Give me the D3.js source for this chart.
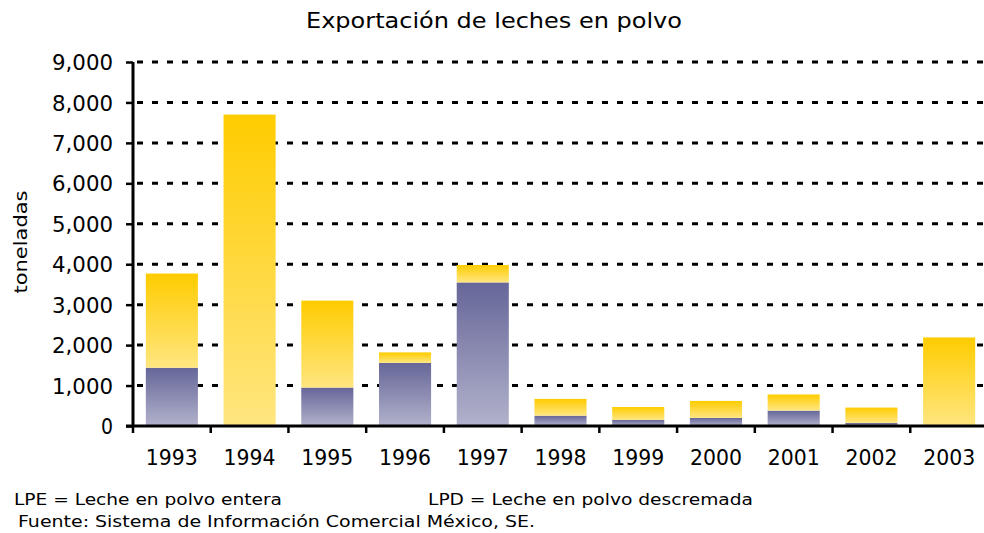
<!DOCTYPE html>
<html>
<head>
<meta charset="utf-8">
<script src="https://cdn.jsdelivr.net/npm/d3@7"></script>
<style>
  body { margin: 0; background: #fff; }
  text { font-family: Verdana, "DejaVu Sans", sans-serif; fill: #000; }
</style>
</head>
<body>
<svg id="chart"></svg>
<script>
// Data (toneladas)
const years = ["1993", "1994", "1995", "1996", "1997", "1998", "1999", "2000", "2001", "2002", "2003"];
const lpe = [1440, 0, 950, 1560, 3550, 255, 150, 200, 380, 75, 0];
const lpd = [2330, 7700, 2150, 260, 430, 415, 320, 420, 400, 380, 2190];
const yTicks = [0, 1000, 2000, 3000, 4000, 5000, 6000, 7000, 8000, 9000];

const width = 984;
const height = 533;
const margin = { left: 133, right: 996, top: 62, bottom: 426 };

const svg = d3.select("#chart")
    .attr("width", width)
    .attr("height", height);

// Gradients
const defs = svg.append("defs");
const gradYellow = defs.append("linearGradient")
    .attr("id", "gY").attr("x1", 0).attr("y1", 0).attr("x2", 0).attr("y2", 1);
gradYellow.append("stop").attr("offset", "0%").attr("stop-color", "#ffcc00");
gradYellow.append("stop").attr("offset", "100%").attr("stop-color", "#ffe680");
const gradPurple = defs.append("linearGradient")
    .attr("id", "gP").attr("x1", 0).attr("y1", 0).attr("x2", 0).attr("y2", 1);
gradPurple.append("stop").attr("offset", "0%").attr("stop-color", "#666699");
gradPurple.append("stop").attr("offset", "100%").attr("stop-color", "#b2b2cc");

// Scales
const xScale = d3.scaleBand()
    .domain(years)
    .range([margin.left, 988])
    .paddingInner(0.33)
    .paddingOuter(0.165);

const yScale = d3.scaleLinear()
    .domain([0, 9000])
    .range([margin.bottom, margin.top]);

// Gridlines
svg.append("g")
    .selectAll("line")
    .data(yTicks.filter(d => d > 0))
    .enter()
    .append("line")
    .attr("x1", margin.left + 4)
    .attr("x2", 996)
    .attr("y1", d => yScale(d))
    .attr("y2", d => yScale(d))
    .attr("stroke", "#000")
    .attr("stroke-width", 3)
    .attr("stroke-dasharray", "6,9");

// Stacked bars
const stackData = years.map((y, i) => ({ year: y, lpe: lpe[i], lpd: lpd[i] }));
const series = d3.stack().keys(["lpe", "lpd"])(stackData);
const fills = { lpe: "url(#gP)", lpd: "url(#gY)" };

svg.append("g")
    .selectAll("g")
    .data(series)
    .enter()
    .append("g")
    .attr("fill", d => fills[d.key])
    .selectAll("rect")
    .data(d => d.filter(p => p[1] - p[0] > 0))
    .enter()
    .append("rect")
    .attr("x", d => xScale(d.data.year))
    .attr("width", xScale.bandwidth())
    .attr("y", d => yScale(d[1]))
    .attr("height", d => yScale(d[0]) - yScale(d[1]));

// Axes
const yAxis = d3.axisLeft(yScale)
    .tickValues(yTicks)
    .tickFormat(d3.format(","))
    .tickSize(7)
    .tickPadding(13);

const gy = svg.append("g")
    .attr("transform", `translate(${margin.left}, 0)`)
    .call(yAxis);
gy.select(".domain").attr("stroke-width", 3).attr("d", `M0,${margin.top}V${margin.bottom}`);
gy.selectAll(".tick line").attr("stroke-width", 2.5);
gy.selectAll(".tick text")
    .style("font-size", "21px")
    .attr("dy", "0.36em")
    .attr("textLength", d => d === 0 ? 12 : 61)
    .attr("lengthAdjust", "spacingAndGlyphs");

const xAxis = d3.axisBottom(xScale).tickSize(0).tickPadding(24);
const gx = svg.append("g")
    .attr("transform", `translate(0, ${margin.bottom})`)
    .call(xAxis);
gx.select(".domain").attr("stroke-width", 3).attr("d", `M${margin.left - 7},0H988`);
gx.selectAll(".tick text")
    .style("font-size", "21px")
    .attr("textLength", 52)
    .attr("lengthAdjust", "spacingAndGlyphs");

// Category boundary ticks
const step = xScale.step();
const bounds = d3.range(years.length + 1).map(i => margin.left + i * step);
gx.append("g")
    .selectAll("line")
    .data(bounds)
    .enter()
    .append("line")
    .attr("x1", d => d).attr("x2", d => d)
    .attr("y1", 0).attr("y2", 7)
    .attr("stroke", "#000")
    .attr("stroke-width", 2.5);

// Title and labels
svg.append("text")
    .attr("x", 494).attr("y", 28)
    .attr("text-anchor", "middle")
    .style("font-size", "21px")
    .attr("textLength", 376)
    .attr("lengthAdjust", "spacingAndGlyphs")
    .text("Exportación de leches en polvo");

svg.append("text")
    .attr("transform", "translate(27, 242) rotate(-90)")
    .attr("text-anchor", "middle")
    .style("font-size", "18px")
    .attr("textLength", 103)
    .attr("lengthAdjust", "spacingAndGlyphs")
    .text("toneladas");

svg.append("text")
    .attr("x", 14).attr("y", 505)
    .style("font-size", "16px")
    .attr("textLength", 268)
    .attr("lengthAdjust", "spacingAndGlyphs")
    .text("LPE = Leche en polvo entera");

svg.append("text")
    .attr("x", 428).attr("y", 505)
    .style("font-size", "16px")
    .attr("textLength", 325)
    .attr("lengthAdjust", "spacingAndGlyphs")
    .text("LPD = Leche en polvo descremada");

svg.append("text")
    .attr("x", 18).attr("y", 527)
    .style("font-size", "16px")
    .attr("textLength", 517)
    .attr("lengthAdjust", "spacingAndGlyphs")
    .text("Fuente: Sistema de Información Comercial México, SE.");
</script>
</body>
</html>
